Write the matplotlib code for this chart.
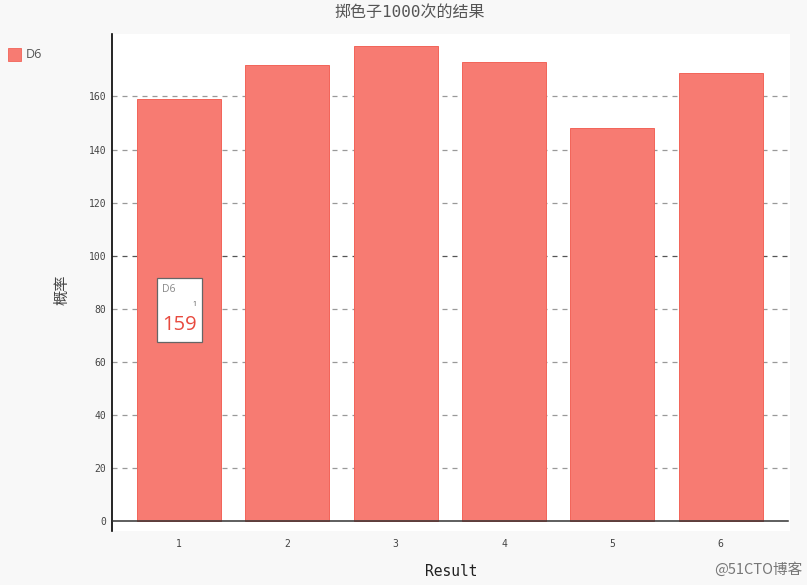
import matplotlib
matplotlib.use("Agg")
import matplotlib.pyplot as plt
from matplotlib.patches import Rectangle

categories = [1, 2, 3, 4, 5, 6]
frequencies = [159, 172, 179, 173, 148, 169]
yticks = [0, 20, 40, 60, 80, 100, 120, 140, 160]
series_name = "D6"
title = "掷色子1000次的结果"
xlabel = "Result"
ylabel = "概率"

W, H = 807, 585
fig = plt.figure(figsize=(W / 100, H / 100), dpi=100, facecolor="#f8f8f8")
ax = fig.add_axes([112 / W, 1 - 531 / H, (790 - 112) / W, (531 - 34) / H])
ax.set_facecolor("white")

bar_fill = "#f77b72"
bar_edge = "#f26459"
ax.bar(categories, frequencies, width=0.775, color=bar_fill, edgecolor=bar_edge,
       linewidth=0.7, zorder=2)

ax.set_xlim(0.382, 6.64)
ax.set_ylim(-3.6, 183.5)

for y in yticks[1:]:
    col = "#555555" if y == 100 else "#999999"
    ax.axhline(y, color=col, linestyle=(0, (4, 4)), linewidth=0.9, zorder=1)
ax.axhline(0, color="#333333", linewidth=1.1, xmin=0, xmax=(788 - 112) / (790 - 112), zorder=3)

for s in ["top", "right", "bottom"]:
    ax.spines[s].set_visible(False)
ax.spines["left"].set_color("black")
ax.spines["left"].set_linewidth(1.2)

mono = "DejaVu Sans Mono"
ax.set_yticks(yticks)
ax.set_yticklabels([str(v) for v in yticks], family=mono, fontsize=7, color="#444444")
ax.set_xticks(categories)
ax.set_xticklabels([str(c) for c in categories], family=mono, fontsize=7, color="#444444")
ax.tick_params(axis="both", length=0)
ax.tick_params(axis="y", pad=4)
ax.tick_params(axis="x", pad=6)

fig.text(410 / W, 1 - 12 / H, title, ha="center", va="center", fontsize=11.5, color="#555555",
         family=[mono, "Noto Sans CJK SC"])
fig.text(451 / W, 1 - 572 / H, xlabel, ha="center", va="center", fontsize=10.5, color="#222222",
         family=mono)
fig.text(62 / W, 1 - 290 / H, ylabel, ha="center", va="center", rotation=90, fontsize=11,
         color="#444444", family=["Noto Sans CJK SC"])

# legend
fig.patches.append(Rectangle((8 / W, 1 - 61 / H), 13 / W, 13 / H, transform=fig.transFigure,
                             facecolor=bar_fill, edgecolor=bar_edge, linewidth=0.6))
fig.text(26 / W, 1 - 54 / H, series_name, ha="left", va="center", fontsize=9, color="#555555",
         family="Open Sans")

# tooltip
fig.patches.append(Rectangle((157 / W, 1 - 342 / H), 45 / W, 64 / H, transform=fig.transFigure,
                             facecolor="white", edgecolor="#666666", linewidth=0.9, zorder=5))
fig.text(162 / W, 1 - 290 / H, series_name, ha="left", va="center", fontsize=7.5, color="#888888",
         family="Open Sans", zorder=6)
fig.text(194 / W, 1 - 304 / H, str(categories[0]), ha="center", va="center", fontsize=5,
         color="#555555", family="Open Sans", zorder=6)
fig.text(179 / W, 1 - 325 / H, str(frequencies[0]), ha="center", va="center", fontsize=14.5,
         color="#e84a3f", family="Open Sans", zorder=6)

# watermark
fig.text(802 / W, 1 - 570 / H, "@51CTO博客", ha="right", va="center", fontsize=10.5,
         color="#777777", family=["Noto Sans CJK SC"])

fig.savefig("out.png", dpi=100, facecolor=fig.get_facecolor())
